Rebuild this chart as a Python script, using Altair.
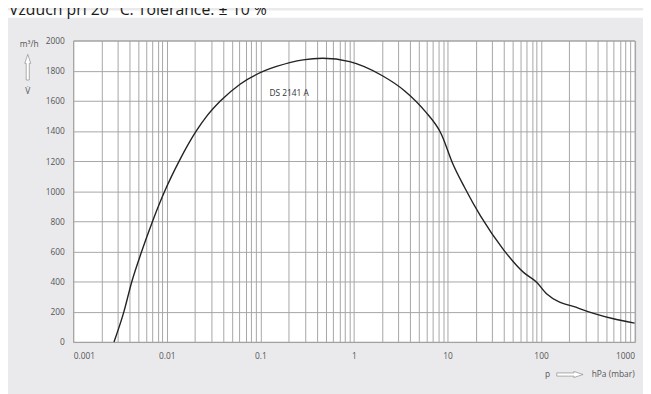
import altair as alt
import pandas as pd

# ---- data ----
pressure_hpa = [0.00273, 0.00348, 0.00423, 0.00539, 0.00704, 0.0095, 0.01357, 0.0207,
                0.0269, 0.0376, 0.0612, 0.1116, 0.149, 0.286, 0.464, 0.9, 1.996, 3.52,
                5.72, 8.58, 11.4, 15.1, 22.7, 40.0, 65.0, 89.8, 114.5, 257.8, 579.0, 1000.0]
flow_m3h = [0, 200, 400, 600, 800, 1000, 1200, 1400,
            1500, 1600, 1712, 1800, 1828, 1872, 1882, 1860, 1768, 1664,
            1533, 1380, 1183, 1030, 833, 610, 462, 397, 320, 222, 156, 125]

decades = [0.001, 0.01, 0.1, 1, 10, 100, 1000]
y_ticks = [0, 200, 400, 600, 800, 1000, 1200, 1400, 1600, 1800, 2000]
series_label = ["DS 2141 A"]
label_pos_p = [0.125]
label_pos_v = [1653]
title_text = "Vzduch při 20 °C. Tolerance: ± 10 %"

# minor grid positions 1..9 x each decade
x_grid = []
for d in decades[:-1]:
    for m in range(1, 10):
        x_grid.append(float(f"{m * d:.6g}"))
x_grid.append(1000.0)

W, H = 568.5, 305.3
PAD_L, PAD_T = 66, 30.5
TOTAL_W, TOTAL_H = 643, 386

curve_df = pd.DataFrame({"p": pressure_hpa, "v": flow_m3h})
label_df = pd.DataFrame({"p": label_pos_p, "v": label_pos_v, "t": series_label})

label_expr = "indexof([" + ",".join(str(d) for d in decades) + "], datum.value) >= 0 ? datum.label : ''"

xscale = alt.Scale(type="log", domain=[0.001, 1000], nice=False)
yscale = alt.Scale(domain=[0, 2000], nice=False, zero=False)

x_axis = alt.Axis(values=x_grid, grid=True, ticks=False, domain=False,
                  labelExpr=label_expr, format="~g", labelFlush=True,
                  labelOverlap=False, labelPadding=10)
y_axis = alt.Axis(values=y_ticks, grid=True, ticks=False, domain=False, format="d",
                  labelPadding=9, labelOverlap=False)

X = alt.X("p:Q", scale=xscale, title=None, axis=x_axis)
Y = alt.Y("v:Q", scale=yscale, title=None, axis=y_axis)

curve = alt.Chart(curve_df).mark_line(
    color="#222222", strokeWidth=1.4, interpolate="monotone"
).encode(x=X, y=Y)

series_text = alt.Chart(label_df).mark_text(
    align="left", baseline="middle", font="Open Sans", fontSize=8.5, color="#333333"
).encode(x=X, y=Y, text="t:N")

one = pd.DataFrame({"k": [0]})

# white strip at the top holding the (cut off) heading
strip = alt.Chart(one).mark_rect(color="white").encode(
    x=alt.value(-PAD_L), x2=alt.value(TOTAL_W - PAD_L),
    y=alt.value(-PAD_T), y2=alt.value(-PAD_T + 7.5))

heading = alt.Chart(one).mark_text(
    align="left", baseline="alphabetic", font="Open Sans", fontSize=16, color="#1a1a1a",
    text=title_text).encode(x=alt.value(-PAD_L + 1), y=alt.value(-PAD_T + 5))

unit_y = alt.Chart(one).mark_text(
    align="right", baseline="middle", font="Open Sans", fontSize=8.5, color="#555555",
    text="m³/h").encode(x=alt.value(-35), y=alt.value(3.5))

vdot = alt.Chart(one).mark_text(
    align="center", baseline="middle", font="Open Sans", fontSize=8.5, color="#555555",
    text="V̇").encode(x=alt.value(-46), y=alt.value(51.5))

up_arrow_path = "M 0 -1 L 0.23 -0.3 L 0.12 -0.3 L 0.12 1 L -0.12 1 L -0.12 -0.3 L -0.23 -0.3 Z"
right_arrow_path = "M 1 0 L 0.3 -0.23 L 0.3 -0.12 L -1 -0.12 L -1 0.12 L 0.3 0.12 L 0.3 0.23 Z"

up_arrow = alt.Chart(one).mark_point(
    shape=up_arrow_path, size=676, filled=True, fill="white", stroke="#8a8a8a",
    strokeWidth=0.7, opacity=1).encode(x=alt.value(-46), y=alt.value(27))

p_text = alt.Chart(one).mark_text(
    align="center", baseline="middle", font="Open Sans", fontSize=8.5, color="#555555",
    text="p").encode(x=alt.value(480.3), y=alt.value(338.2))

right_arrow = alt.Chart(one).mark_point(
    shape=right_arrow_path, size=708, filled=True, fill="white", stroke="#8a8a8a",
    strokeWidth=0.7, opacity=1).encode(x=alt.value(503), y=alt.value(338.2))

unit_x = alt.Chart(one).mark_text(
    align="right", baseline="middle", font="Open Sans", fontSize=8.5, color="#555555",
    text="hPa (mbar)").encode(x=alt.value(W), y=alt.value(338.2))

chart = alt.layer(
    strip, heading, curve, series_text, unit_y, up_arrow, vdot, p_text, right_arrow, unit_x
).properties(
    width=W, height=H,
    autosize=alt.AutoSizeParams(type="none"),
    padding={"left": PAD_L, "top": PAD_T, "right": TOTAL_W - PAD_L - W,
             "bottom": TOTAL_H - PAD_T - H},
    background="#eaeaec",
).configure_view(
    fill="white", stroke="#999999", strokeWidth=1
).configure_axis(
    gridColor="#a6a6a6", gridWidth=1, gridOpacity=1,
    labelFont="Open Sans", labelFontSize=8.5, labelColor="#555555"
)

chart.save("out.html", embed_options={"renderer": "svg", "actions": False})
